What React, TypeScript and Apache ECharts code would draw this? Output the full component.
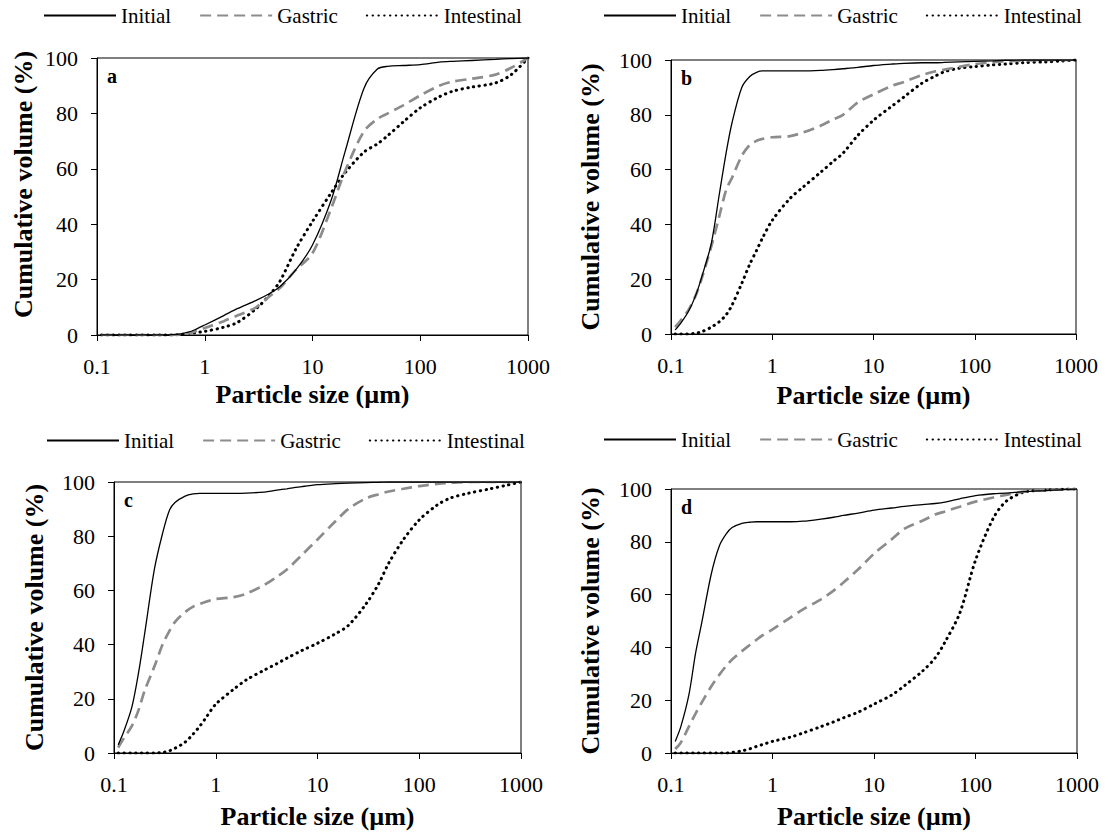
import React, { useEffect, useRef } from "react";
import * as echarts from "echarts";

const FONT = "Liberation Serif";

const SIZES = [0.11, 0.125, 0.15, 0.175, 0.2, 0.25, 0.3, 0.35, 0.4, 0.5, 0.6, 0.7, 0.8, 1, 1.5, 2, 3, 4, 5, 7, 10, 15, 20, 30, 40, 50, 70, 100, 150, 200, 300, 500, 700, 1000];

const X_TICKS = [0.1, 1, 10, 100, 1000];
const Y_TICKS = [0, 20, 40, 60, 80, 100];
const SERIES_NAMES = ["Initial", "Gastric", "Intestinal"];
const PANEL_LABELS = ["a", "b", "c", "d"];

// Panel a
const A_INITIAL = [0, 0, 0, 0, 0, 0, 0, 0, 0, 0.1, 0.4, 1, 1.8, 3.6, 7, 9.5, 12.5, 15, 17.5, 23.5, 32.5, 49, 66, 89, 96, 97, 97.3, 97.6, 98.5, 98.8, 99.1, 99.5, 99.8, 100];
const A_GASTRIC = [0, 0, 0, 0, 0, 0, 0, 0, 0, 0, 0.2, 0.6, 1.2, 2.5, 5, 7, 10, 14, 17, 23.5, 29.5, 46, 59, 73.5, 78, 80, 83, 86.5, 90, 91.5, 92.5, 94, 96.5, 100];
const A_INTESTINAL = [0, 0, 0, 0, 0, 0, 0, 0, 0, 0, 0.2, 0.5, 0.8, 1.3, 2.8, 4.5, 9.5, 14.5, 19.5, 31, 41, 51.5, 58.5, 66, 69, 72, 77, 82, 86, 88, 89.5, 91, 94, 100];

// Panel b
const B_INITIAL = [1.5, 4, 8.5, 14, 20.5, 33, 51, 66, 77, 90, 94, 95.5, 96, 96, 96, 96, 96.2, 96.5, 96.8, 97.3, 98, 98.5, 98.8, 99, 99, 99.1, 99.3, 99.5, 99.7, 99.9, 100, 100, 100, 100];
const B_GASTRIC = [2.5, 5, 9, 14, 20, 32, 43, 52.5, 57, 65, 69, 70.5, 71.2, 71.8, 72.2, 73.5, 76, 78.3, 80, 84.5, 87.5, 90.5, 92, 94.5, 95.8, 96.5, 97.5, 98.5, 99.2, 99.5, 99.8, 100, 100, 100];
const B_INTESTINAL = [0, 0, 0, 0.3, 0.8, 2.5, 4.5, 7, 10.5, 18.5, 25.5, 30.5, 35, 41.5, 49.5, 53.5, 59, 63, 66, 72.5, 78, 83, 86.5, 91.5, 94, 95.7, 97, 97.6, 98.2, 98.5, 99, 99.3, 99.6, 100];

// Panel c
const C_INITIAL = [3, 8, 17, 30, 44, 68, 81, 89.5, 92.5, 94.8, 95.6, 95.8, 95.8, 95.8, 95.8, 95.9, 96.3, 97, 97.5, 98.3, 99, 99.4, 99.6, 99.8, 99.9, 100, 100, 100, 100, 100, 100, 100, 100, 100];
const C_GASTRIC = [2, 5.5, 10, 16, 23, 32, 40, 45, 48.5, 52, 54, 55, 55.8, 56.8, 57.5, 58.8, 62, 65, 67.7, 73, 78.8, 85.5, 90, 94, 95.5, 96.5, 97.5, 98.5, 99.3, 99.7, 100, 100, 100, 100];
const C_INTESTINAL = [0, 0, 0, 0, 0, 0, 0.2, 0.8, 1.8, 4, 7, 10, 13, 18, 23.5, 27, 30.6, 33, 35, 37.8, 40.5, 44, 47, 55, 62.5, 70, 78.8, 86, 91.5, 94, 95.8, 97.5, 98.7, 100];

// Panel d
const D_INITIAL = [4.4, 10, 22, 38, 49, 68, 78.5, 83, 85.4, 87, 87.4, 87.6, 87.6, 87.6, 87.6, 87.8, 88.6, 89.3, 90, 90.9, 92, 92.8, 93.4, 94.1, 94.5, 95, 96.3, 97.5, 98.2, 98.4, 99, 99.4, 99.7, 100];
const D_GASTRIC = [1.5, 4, 10, 15, 19, 25.3, 29.7, 33, 35.4, 38.6, 41, 43, 44.6, 46.8, 51.3, 54.4, 58.2, 61.5, 64.6, 69.6, 75.5, 81, 85, 88, 90.3, 91.5, 93.3, 95.2, 96.8, 97.8, 99, 99.6, 99.8, 100];
const D_INTESTINAL = [0, 0, 0, 0, 0, 0, 0, 0, 0.2, 0.8, 1.6, 2.5, 3.2, 4.4, 6, 7.6, 10, 11.8, 13.3, 15.5, 18.5, 22, 25.5, 31, 36, 42, 53, 73, 89, 95.3, 98.8, 99.6, 99.9, 100];

const PANELS = [
  [A_INITIAL, A_GASTRIC, A_INTESTINAL],
  [B_INITIAL, B_GASTRIC, B_INTESTINAL],
  [C_INITIAL, C_GASTRIC, C_INTESTINAL],
  [D_INITIAL, D_GASTRIC, D_INTESTINAL],
];

const GRIDS = [
  { left: 97, top: 58, width: 431, height: 277 },
  { left: 671, top: 60, width: 405, height: 274 },
  { left: 114, top: 482, width: 407, height: 271 },
  { left: 671, top: 489, width: 406, height: 264 },
];
const LEGEND_POS = [
  { left: 43, top: 5 },
  { left: 603, top: 5 },
  { left: 46, top: 430 },
  { left: 603, top: 429 },
];
const Y_NAME_GAP = [61, 68, 67, 68];
const Y_NAME_PAD = [[0, 0, 0, 24], [0, 0, 0, 0], [0, 0, 0, 0], [0, 0, 0, 0]];
const X_NAME_GAP = [46, 48, 50, 50];

const LINE_STYLES = [
  { color: "#000000", width: 1.3, type: "solid" },
  { color: "#8c8c8c", width: 2.7, type: [11, 6] },
  { color: "#000000", width: 3, type: [0.4, 5.4], cap: "round" },
];

export default function App() {
  const ref = useRef<HTMLDivElement>(null);
  useEffect(() => {
    if (!ref.current) return;
    const chart = echarts.init(ref.current, null, { renderer: "svg" });
    const series: any[] = [];
    PANELS.forEach((panel, p) => {
      panel.forEach((vals, s) => {
        series.push({
          type: "line",
          name: SERIES_NAMES[s],
          xAxisIndex: p,
          yAxisIndex: p,
          data: SIZES.map((x, i) => [x, vals[i]]),
          showSymbol: false,
          symbol: "none",
          smooth: 0.3,
          itemStyle: { color: LINE_STYLES[s].color },
          lineStyle: LINE_STYLES[s],
          z: 3 - s,
        });
      });
    });
    const option: any = {
      animation: false,
      backgroundColor: "#ffffff",
      grid: GRIDS.map((g) => ({ ...g, show: true, borderColor: "#000", borderWidth: 1, backgroundColor: "transparent", containLabel: false })),
      legend: LEGEND_POS.map((pos) => ({
        left: pos.left,
        top: pos.top,
        padding: 0,
        data: SERIES_NAMES,
        itemWidth: 72,
        itemHeight: 12,
        itemGap: 28,
        itemStyle: { opacity: 0, color: "transparent", borderWidth: 0 },
        textStyle: { fontFamily: FONT, fontSize: 21, color: "#000" },
        selectedMode: false,
      })),
      xAxis: GRIDS.map((_, i) => ({
        type: "log",
        logBase: 10,
        gridIndex: i,
        min: X_TICKS[0],
        max: X_TICKS[X_TICKS.length - 1],
        axisLine: { show: true, onZero: false, lineStyle: { color: "#000", width: 1 } },
        axisTick: { show: true, inside: false, length: 6, lineStyle: { color: "#000" } },
        minorTick: { show: false },
        splitLine: { show: false },
        axisLabel: {
          color: "#000",
          fontFamily: FONT,
          fontSize: 22,
          margin: 20,
          formatter: (v: number) => (v < 1 ? v.toFixed(1) : String(Math.round(v))),
        },
        name: "Particle size (µm)",
        nameLocation: "middle",
        nameGap: X_NAME_GAP[i],
        nameTextStyle: { fontFamily: FONT, fontSize: 26, fontWeight: "bold", color: "#000" },
      })),
      yAxis: GRIDS.map((_, i) => ({
        type: "value",
        gridIndex: i,
        min: Y_TICKS[0],
        max: Y_TICKS[Y_TICKS.length - 1],
        interval: 20,
        axisLine: { show: true, lineStyle: { color: "#000", width: 1 } },
        axisTick: { show: true, inside: false, length: 6, lineStyle: { color: "#000" } },
        splitLine: { show: false },
        axisLabel: { color: "#000", fontFamily: FONT, fontSize: 22, margin: 19 },
        name: "Cumulative volume (%)",
        nameLocation: "middle",
        nameRotate: 90,
        nameGap: Y_NAME_GAP[i],
        nameTextStyle: { fontFamily: FONT, fontSize: 26, fontWeight: "bold", color: "#000", padding: Y_NAME_PAD[i] },
      })),
      graphic: GRIDS.map((g, i) => ({
        type: "text",
        left: g.left + 10,
        top: g.top + 8,
        style: { text: PANEL_LABELS[i], fontFamily: FONT, fontSize: 20, fontWeight: "bold", fill: "#000" },
      })),
      series,
    };
    chart.setOption(option);
    return () => chart.dispose();
  }, []);
  return <div ref={ref} style={{ position: "absolute", left: 0, top: 0, width: 1108, height: 832, background: "#fff" }} />;
}
